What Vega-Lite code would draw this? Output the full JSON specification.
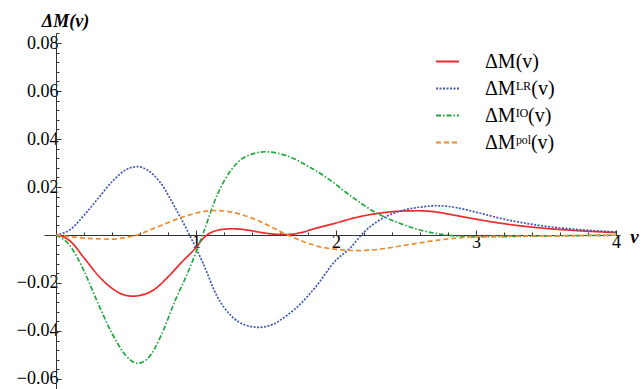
{
  "$schema": "https://vega.github.io/schema/vega-lite/v6.json",
  "width": 576,
  "height": 356,
  "autosize": {"type": "none"},
  "padding": {"left": 44, "top": 33, "right": 22, "bottom": 0},
  "background": "white",
  "config": {
    "view": {"stroke": null},
    "font": "Liberation Serif",
    "legend": {
      "orient": "none",
      "legendX": 391,
      "legendY": 16,
      "padding": 0,
      "symbolType": "stroke",
      "symbolSize": 529,
      "symbolStrokeWidth": 1.8,
      "labelFont": "Liberation Serif",
      "labelFontSize": 20,
      "labelColor": "black",
      "labelOffset": 25,
      "rowPadding": 4,
      "labelLimit": 300
    }
  },
  "data": {
    "values": [
      {"v": 0, "s": "ΔM(v)", "y": 0},
      {"v": 0.05, "s": "ΔM(v)", "y": -0.0007},
      {"v": 0.1, "s": "ΔM(v)", "y": -0.0025},
      {"v": 0.2, "s": "ΔM(v)", "y": -0.0095},
      {"v": 0.3, "s": "ΔM(v)", "y": -0.0168},
      {"v": 0.4, "s": "ΔM(v)", "y": -0.0222},
      {"v": 0.5, "s": "ΔM(v)", "y": -0.0252},
      {"v": 0.55, "s": "ΔM(v)", "y": -0.0255},
      {"v": 0.6, "s": "ΔM(v)", "y": -0.0252},
      {"v": 0.7, "s": "ΔM(v)", "y": -0.0228},
      {"v": 0.8, "s": "ΔM(v)", "y": -0.0175},
      {"v": 0.9, "s": "ΔM(v)", "y": -0.0112},
      {"v": 1.0, "s": "ΔM(v)", "y": -0.0052},
      {"v": 1.05, "s": "ΔM(v)", "y": -0.0015},
      {"v": 1.1, "s": "ΔM(v)", "y": 0.0008},
      {"v": 1.2, "s": "ΔM(v)", "y": 0.0024},
      {"v": 1.26, "s": "ΔM(v)", "y": 0.0026},
      {"v": 1.35, "s": "ΔM(v)", "y": 0.0022},
      {"v": 1.45, "s": "ΔM(v)", "y": 0.0012},
      {"v": 1.55, "s": "ΔM(v)", "y": 0.0004},
      {"v": 1.65, "s": "ΔM(v)", "y": 0.0002},
      {"v": 1.75, "s": "ΔM(v)", "y": 0.001},
      {"v": 1.85, "s": "ΔM(v)", "y": 0.0027},
      {"v": 2.0, "s": "ΔM(v)", "y": 0.005},
      {"v": 2.15, "s": "ΔM(v)", "y": 0.0074},
      {"v": 2.3, "s": "ΔM(v)", "y": 0.009},
      {"v": 2.45, "s": "ΔM(v)", "y": 0.0099},
      {"v": 2.58, "s": "ΔM(v)", "y": 0.0101},
      {"v": 2.7, "s": "ΔM(v)", "y": 0.0097},
      {"v": 2.85, "s": "ΔM(v)", "y": 0.0082},
      {"v": 3.0, "s": "ΔM(v)", "y": 0.0066},
      {"v": 3.2, "s": "ΔM(v)", "y": 0.0047},
      {"v": 3.45, "s": "ΔM(v)", "y": 0.003},
      {"v": 3.7, "s": "ΔM(v)", "y": 0.0019},
      {"v": 4.0, "s": "ΔM(v)", "y": 0.001},

      {"v": 0, "s": "ΔMᴸᴿ(v)", "y": 0},
      {"v": 0.1, "s": "ΔMᴸᴿ(v)", "y": 0.0022},
      {"v": 0.2, "s": "ΔMᴸᴿ(v)", "y": 0.0082},
      {"v": 0.3, "s": "ΔMᴸᴿ(v)", "y": 0.0152},
      {"v": 0.4, "s": "ΔMᴸᴿ(v)", "y": 0.0222},
      {"v": 0.5, "s": "ΔMᴸᴿ(v)", "y": 0.0272},
      {"v": 0.58, "s": "ΔMᴸᴿ(v)", "y": 0.0285},
      {"v": 0.65, "s": "ΔMᴸᴿ(v)", "y": 0.0272},
      {"v": 0.75, "s": "ΔMᴸᴿ(v)", "y": 0.0215},
      {"v": 0.85, "s": "ΔMᴸᴿ(v)", "y": 0.0115},
      {"v": 0.95, "s": "ΔMᴸᴿ(v)", "y": 0.0005},
      {"v": 1.05, "s": "ΔMᴸᴿ(v)", "y": -0.0117},
      {"v": 1.15, "s": "ΔMᴸᴿ(v)", "y": -0.0255},
      {"v": 1.25, "s": "ΔMᴸᴿ(v)", "y": -0.0336},
      {"v": 1.35, "s": "ΔMᴸᴿ(v)", "y": -0.0375},
      {"v": 1.45, "s": "ΔMᴸᴿ(v)", "y": -0.0385},
      {"v": 1.55, "s": "ΔMᴸᴿ(v)", "y": -0.0372},
      {"v": 1.65, "s": "ΔMᴸᴿ(v)", "y": -0.0335},
      {"v": 1.75, "s": "ΔMᴸᴿ(v)", "y": -0.0285},
      {"v": 1.85, "s": "ΔMᴸᴿ(v)", "y": -0.022},
      {"v": 2.0, "s": "ΔMᴸᴿ(v)", "y": -0.0105},
      {"v": 2.1, "s": "ΔMᴸᴿ(v)", "y": -0.0055},
      {"v": 2.2, "s": "ΔMᴸᴿ(v)", "y": 0.0012},
      {"v": 2.3, "s": "ΔMᴸᴿ(v)", "y": 0.0058},
      {"v": 2.4, "s": "ΔMᴸᴿ(v)", "y": 0.0088},
      {"v": 2.5, "s": "ΔMᴸᴿ(v)", "y": 0.0106},
      {"v": 2.6, "s": "ΔMᴸᴿ(v)", "y": 0.0116},
      {"v": 2.72, "s": "ΔMᴸᴿ(v)", "y": 0.0122},
      {"v": 2.85, "s": "ΔMᴸᴿ(v)", "y": 0.0115},
      {"v": 3.0, "s": "ΔMᴸᴿ(v)", "y": 0.0095},
      {"v": 3.2, "s": "ΔMᴸᴿ(v)", "y": 0.0066},
      {"v": 3.45, "s": "ΔMᴸᴿ(v)", "y": 0.004},
      {"v": 3.7, "s": "ΔMᴸᴿ(v)", "y": 0.0024},
      {"v": 4.0, "s": "ΔMᴸᴿ(v)", "y": 0.0013},

      {"v": 0, "s": "ΔMᴵᴼ(v)", "y": 0},
      {"v": 0.1, "s": "ΔMᴵᴼ(v)", "y": -0.0045},
      {"v": 0.2, "s": "ΔMᴵᴼ(v)", "y": -0.015},
      {"v": 0.3, "s": "ΔMᴵᴼ(v)", "y": -0.0285},
      {"v": 0.4, "s": "ΔMᴵᴼ(v)", "y": -0.041},
      {"v": 0.5, "s": "ΔMᴵᴼ(v)", "y": -0.0503},
      {"v": 0.58, "s": "ΔMᴵᴼ(v)", "y": -0.0535},
      {"v": 0.65, "s": "ΔMᴵᴼ(v)", "y": -0.0518},
      {"v": 0.75, "s": "ΔMᴵᴼ(v)", "y": -0.042},
      {"v": 0.85, "s": "ΔMᴵᴼ(v)", "y": -0.0275},
      {"v": 0.95, "s": "ΔMᴵᴼ(v)", "y": -0.0145},
      {"v": 1.05, "s": "ΔMᴵᴼ(v)", "y": 0.0005},
      {"v": 1.15, "s": "ΔMᴵᴼ(v)", "y": 0.0165},
      {"v": 1.25, "s": "ΔMᴵᴼ(v)", "y": 0.027},
      {"v": 1.35, "s": "ΔMᴵᴼ(v)", "y": 0.0325},
      {"v": 1.5, "s": "ΔMᴵᴼ(v)", "y": 0.0347},
      {"v": 1.65, "s": "ΔMᴵᴼ(v)", "y": 0.033},
      {"v": 1.8, "s": "ΔMᴵᴼ(v)", "y": 0.0287},
      {"v": 1.95, "s": "ΔMᴵᴼ(v)", "y": 0.0232},
      {"v": 2.1, "s": "ΔMᴵᴼ(v)", "y": 0.0165},
      {"v": 2.3, "s": "ΔMᴵᴼ(v)", "y": 0.0088},
      {"v": 2.45, "s": "ΔMᴵᴼ(v)", "y": 0.005},
      {"v": 2.6, "s": "ΔMᴵᴼ(v)", "y": 0.0021},
      {"v": 2.75, "s": "ΔMᴵᴼ(v)", "y": 0.0003},
      {"v": 2.9, "s": "ΔMᴵᴼ(v)", "y": -0.0006},
      {"v": 3.1, "s": "ΔMᴵᴼ(v)", "y": -0.0007},
      {"v": 3.5, "s": "ΔMᴵᴼ(v)", "y": -0.0004},
      {"v": 4.0, "s": "ΔMᴵᴼ(v)", "y": -0.0001},

      {"v": 0, "s": "ΔMᵖᵒˡ(v)", "y": 0},
      {"v": 0.15, "s": "ΔMᵖᵒˡ(v)", "y": -0.001},
      {"v": 0.3, "s": "ΔMᵖᵒˡ(v)", "y": -0.0016},
      {"v": 0.4, "s": "ΔMᵖᵒˡ(v)", "y": -0.0017},
      {"v": 0.5, "s": "ΔMᵖᵒˡ(v)", "y": -0.001},
      {"v": 0.58, "s": "ΔMᵖᵒˡ(v)", "y": 0},
      {"v": 0.67, "s": "ΔMᵖᵒˡ(v)", "y": 0.0021},
      {"v": 0.79, "s": "ΔMᵖᵒˡ(v)", "y": 0.0049},
      {"v": 0.91, "s": "ΔMᵖᵒˡ(v)", "y": 0.0076},
      {"v": 1.03, "s": "ΔMᵖᵒˡ(v)", "y": 0.0095},
      {"v": 1.12, "s": "ΔMᵖᵒˡ(v)", "y": 0.0102},
      {"v": 1.2, "s": "ΔMᵖᵒˡ(v)", "y": 0.01},
      {"v": 1.3, "s": "ΔMᵖᵒˡ(v)", "y": 0.0089},
      {"v": 1.43, "s": "ΔMᵖᵒˡ(v)", "y": 0.0063},
      {"v": 1.55, "s": "ΔMᵖᵒˡ(v)", "y": 0.003},
      {"v": 1.65, "s": "ΔMᵖᵒˡ(v)", "y": 0.0001},
      {"v": 1.77, "s": "ΔMᵖᵒˡ(v)", "y": -0.0028},
      {"v": 1.9, "s": "ΔMᵖᵒˡ(v)", "y": -0.0051},
      {"v": 2.05, "s": "ΔMᵖᵒˡ(v)", "y": -0.0062},
      {"v": 2.15, "s": "ΔMᵖᵒˡ(v)", "y": -0.0065},
      {"v": 2.3, "s": "ΔMᵖᵒˡ(v)", "y": -0.006},
      {"v": 2.46, "s": "ΔMᵖᵒˡ(v)", "y": -0.0046},
      {"v": 2.65, "s": "ΔMᵖᵒˡ(v)", "y": -0.0028},
      {"v": 2.84, "s": "ΔMᵖᵒˡ(v)", "y": -0.0014},
      {"v": 3.03, "s": "ΔMᵖᵒˡ(v)", "y": -0.0007},
      {"v": 3.45, "s": "ΔMᵖᵒˡ(v)", "y": -0.0004},
      {"v": 4.0, "s": "ΔMᵖᵒˡ(v)", "y": -0.0001}
    ]
  },
  "mark": {"type": "line", "interpolate": "monotone", "strokeWidth": 1.7, "clip": true},
  "encoding": {
    "x": {
      "field": "v",
      "type": "quantitative",
      "scale": {"domain": [-0.0857, 4.0286], "nice": false, "zero": false},
      "axis": {
        "orient": "bottom",
        "offset": -154,
        "values": [0.2, 0.4, 0.6, 0.8, 1, 1.2, 1.4, 1.6, 1.8, 2, 2.2, 2.4, 2.6, 2.8, 3, 3.2, 3.4, 3.6, 3.8, 4],
        "labelExpr": "abs(datum.value - round(datum.value)) < 1e-6 ? format(datum.value, 'd') : ''",
        "labelOverlap": false,
        "labelFlush": false,
        "labelBound": false,
        "labelFont": "Liberation Serif",
        "labelFontSize": 18,
        "labelColor": "black",
        "labelPadding": 3,
        "grid": false,
        "domainColor": "#333333",
        "domainWidth": 1,
        "tickColor": "#333333",
        "tickWidth": 1,
        "tickSize": {"condition": {"test": "abs(datum.value - round(datum.value)) < 1e-6", "value": -5}, "value": -3},
        "title": "v",
        "titleFont": "Liberation Serif",
        "titleFontSize": 19,
        "titleFontStyle": "italic",
        "titleFontWeight": 700,
        "titleColor": "black",
        "titleX": 590,
        "titleY": 1,
        "titleAlign": "center",
        "titleBaseline": "middle"
      }
    },
    "y": {
      "field": "y",
      "type": "quantitative",
      "scale": {"domain": [-0.0642, 0.0842], "nice": false, "zero": false},
      "axis": {
        "orient": "left",
        "offset": -12,
        "values": [-0.064, -0.06, -0.056, -0.052, -0.048, -0.044, -0.04, -0.036, -0.032, -0.028, -0.024, -0.02, -0.016, -0.012, -0.008, -0.004, 0.004, 0.008, 0.012, 0.016, 0.02, 0.024, 0.028, 0.032, 0.036, 0.04, 0.044, 0.048, 0.052, 0.056, 0.06, 0.064, 0.068, 0.072, 0.076, 0.08, 0.084],
        "labelExpr": "abs(datum.value*50 - round(datum.value*50)) < 1e-6 ? format(datum.value, '.2f') : ''",
        "labelOverlap": false,
        "labelFlush": false,
        "labelBound": false,
        "labelFont": "Liberation Serif",
        "labelFontSize": 18,
        "labelColor": "black",
        "labelPadding": 3,
        "grid": false,
        "domainColor": "#333333",
        "domainWidth": 1,
        "tickColor": "#333333",
        "tickWidth": 1,
        "tickSize": {"condition": {"test": "abs(datum.value*50 - round(datum.value*50)) < 1e-6", "value": -5}, "value": -3},
        "title": "ΔM(v)",
        "titleFont": "Liberation Serif",
        "titleFontSize": 18,
        "titleFontStyle": "italic",
        "titleFontWeight": 700,
        "titleColor": "black",
        "titleAngle": 0,
        "titleX": 9,
        "titleY": -12,
        "titleAlign": "center",
        "titleBaseline": "middle"
      }
    },
    "color": {
      "field": "s",
      "type": "nominal",
      "scale": {
        "domain": ["ΔM(v)", "ΔMᴸᴿ(v)", "ΔMᴵᴼ(v)", "ΔMᵖᵒˡ(v)"],
        "range": ["#ec2a2a", "#3f57b3", "#1fa83e", "#f38a28"]
      },
      "legend": {"title": null}
    },
    "strokeDash": {
      "field": "s",
      "type": "nominal",
      "scale": {
        "domain": ["ΔM(v)", "ΔMᴸᴿ(v)", "ΔMᴵᴼ(v)", "ΔMᵖᵒˡ(v)"],
        "range": [[1, 0], [2, 1.5], [5, 2, 1.5, 2], [5, 3]]
      },
      "legend": {"title": null}
    }
  }
}
